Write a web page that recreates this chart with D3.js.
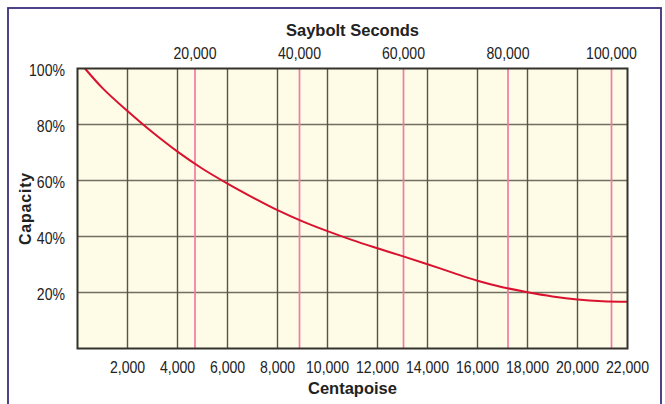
<!DOCTYPE html>
<html>
<head>
<meta charset="utf-8">
<script src="https://cdn.jsdelivr.net/npm/d3@7"></script>
<style>
  body { margin:0; background:#fff; }
  svg { display:block; }
</style>
</head>
<body>
<div id="chart"></div>
<script>
// centipoise readings and capacity (%)
var centipoise = [300, 1000, 2000, 3000, 4000, 5000, 6000, 7000, 8000, 9000, 10000, 11000,
                  12000, 13000, 14000, 15000, 16000, 17000, 18000, 19000, 20000, 21000, 22000];
var capacity   = [100, 93.0, 84.8, 77.2, 70.3, 64.2, 58.9, 54.0, 49.4, 45.4, 41.9, 38.7,
                  35.8, 33.0, 30.1, 27.1, 24.2, 21.9, 20.1, 18.6, 17.5, 16.9, 16.7];
// bottom ticks (centipoise), left ticks (%)
var cpTicks  = [2000, 4000, 6000, 8000, 10000, 12000, 14000, 16000, 18000, 20000, 22000];
var capTicks = [20, 40, 60, 80, 100];
// top axis: saybolt seconds and where they sit in centipoise
var ssuTicks = [20000, 40000, 60000, 80000, 100000];
var ssuAtCp  = [4700, 8880, 13040, 17220, 21360];

var W = 665, H = 404;
var pad = {top: 68.5, left: 77.5, bottom: 55, right: 37.5};

var svg = d3.select("#chart").append("svg")
  .attr("width", W).attr("height", H)
  .attr("viewBox", "0 0 " + W + " " + H);

// outer frame
svg.append("rect")
  .attr("x", 8).attr("y", 8)
  .attr("width", 653).attr("height", 410)
  .attr("fill", "none")
  .attr("stroke", "#3b2f7c")
  .attr("stroke-width", 1.8);

var x = d3.scaleLinear().domain([0, 22000]).range([pad.left, W - pad.right]);
var y = d3.scaleLinear().domain([0, 100]).range([H - pad.bottom - 0.5, pad.top]);

var fmt = d3.format(",");
var sans = "'Liberation Sans', Arial, Helvetica, sans-serif";
var squeeze = 0.88;   // narrow look of the tick labels

// plot background
svg.append("rect")
  .attr("x", x(0)).attr("y", y(100))
  .attr("width", x(22000) - x(0)).attr("height", y(0) - y(100))
  .attr("fill", "#fefbe6");

// horizontal grid
svg.append("g").selectAll("line").data(capTicks.filter(function(d){ return d < 100; }))
  .join("line")
  .attr("x1", x(0)).attr("x2", x(22000))
  .attr("y1", function(d){ return y(d); }).attr("y2", function(d){ return y(d); })
  .attr("stroke", "#6f6f62").attr("stroke-width", 1.6);

// vertical grid
svg.append("g").selectAll("line").data(cpTicks.filter(function(d){ return d < 22000; }))
  .join("line")
  .attr("x1", function(d){ return x(d); }).attr("x2", function(d){ return x(d); })
  .attr("y1", y(0)).attr("y2", y(100))
  .attr("stroke", "#55554a").attr("stroke-width", 1.4);

// saybolt lines
svg.append("g").selectAll("line").data(ssuAtCp)
  .join("line")
  .attr("x1", function(d){ return x(d); }).attr("x2", function(d){ return x(d); })
  .attr("y1", y(0)).attr("y2", y(100))
  .attr("stroke", "#f27aa5").attr("stroke-width", 1.7);

// curve
var line = d3.line()
  .x(function(d){ return x(d[0]); })
  .y(function(d){ return y(d[1]); })
  .curve(d3.curveCatmullRom.alpha(0.5));

svg.append("path")
  .datum(centipoise.map(function(v, i){ return [v, capacity[i]]; }))
  .attr("d", line)
  .attr("fill", "none")
  .attr("stroke", "#d9122f")
  .attr("stroke-width", 2)
  .attr("stroke-linejoin", "round");

// plot border
svg.append("rect")
  .attr("x", x(0)).attr("y", y(100))
  .attr("width", x(22000) - x(0)).attr("height", y(0) - y(100))
  .attr("fill", "none")
  .attr("stroke", "#33332c").attr("stroke-width", 2);

function tickText(g, anchor){
  g.attr("text-anchor", anchor)
   .style("font-family", sans).style("font-size", "16px").attr("fill", "#222");
}

// bottom labels
svg.append("g").selectAll("text").data(cpTicks)
  .join("text")
  .attr("transform", function(d){ return "translate(" + x(d) + ",373) scale(" + squeeze + ",1)"; })
  .call(tickText, "middle")
  .text(function(d){ return fmt(d); });

// top labels
svg.append("g").selectAll("text").data(ssuTicks)
  .join("text")
  .attr("transform", function(d, i){ return "translate(" + x(ssuAtCp[i]) + ",59) scale(" + squeeze + ",1)"; })
  .call(tickText, "middle")
  .text(function(d){ return fmt(d); });

// left labels
svg.append("g").selectAll("text").data(capTicks)
  .join("text")
  .attr("transform", function(d){ return "translate(65," + (y(d) + 7) + ") scale(" + squeeze + ",1)"; })
  .call(tickText, "end")
  .text(function(d){ return d + "%"; });

// axis titles
svg.append("text")
  .attr("x", (x(0) + x(22000)) / 2).attr("y", 36)
  .attr("text-anchor", "middle")
  .style("font-family", sans).style("font-size", "16.5px").style("font-weight", "bold")
  .attr("fill", "#222")
  .text("Saybolt Seconds");

svg.append("text")
  .attr("x", (x(0) + x(22000)) / 2).attr("y", 394)
  .attr("text-anchor", "middle")
  .style("font-family", sans).style("font-size", "16.5px").style("font-weight", "bold")
  .attr("fill", "#222")
  .text("Centapoise");

svg.append("text")
  .attr("transform", "translate(31," + ((y(0) + y(100)) / 2) + ") rotate(-90)")
  .attr("text-anchor", "middle")
  .style("font-family", sans).style("font-size", "16px").style("font-weight", "bold")
  .style("letter-spacing", "0.8px")
  .attr("fill", "#222")
  .text("Capacity");
</script>
</body>
</html>
